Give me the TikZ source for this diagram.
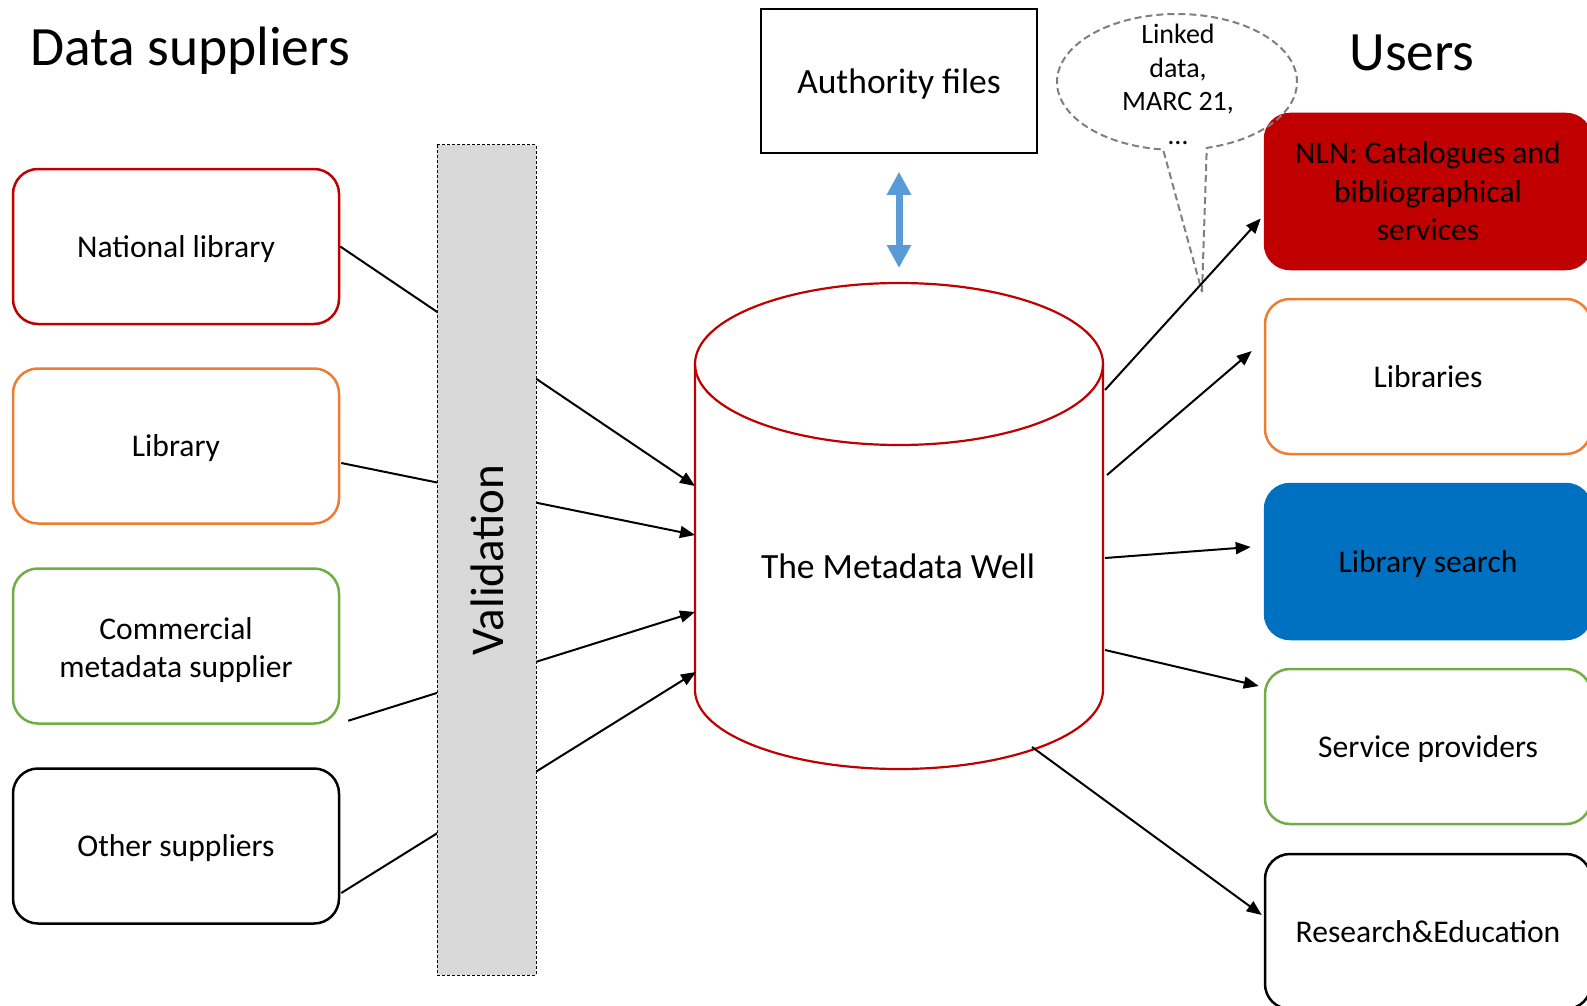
\documentclass[tikz,border=0pt]{standalone}
\usepackage{fontspec}
\setmainfont{Carlito}
\usetikzlibrary{arrows.meta,calc,shapes.callouts}
\definecolor{cred}{HTML}{C00000}
\definecolor{corange}{HTML}{ED7D31}
\definecolor{cgreen}{HTML}{70AD47}
\definecolor{cblue}{HTML}{0070C0}
\definecolor{clightblue}{HTML}{5B9BD5}
\definecolor{cgrayfill}{HTML}{D9D9D9}
\definecolor{cbubble}{HTML}{7F7F7F}
\begin{document}
\begin{tikzpicture}[x=1pt,y=-1pt,
  boxtext/.style={font=\fontsize{31.6}{38.5}\selectfont},
  lbox/.style={rectangle, rounded corners=25pt, line width=2.5pt, minimum width=326pt,
    minimum height=155pt, inner sep=0pt, align=center, boxtext},
  rbox/.style={lbox, minimum height=155pt},
  oneline/.style={text height=21pt, text depth=0pt},
  conn/.style={line width=2pt, -{Triangle[length=15pt,width=12pt]}},
  wellline/.style={draw=cred, line width=2.2pt},
  title/.style={inner sep=0pt, font=\fontsize{55.5}{62}\selectfont}
]
\useasboundingbox (0,0) rectangle (1587,1006);

% titles
\node[title, anchor=base west] (ds) at (30,66) {Data suppliers};
\node[title, anchor=base] (users) at (1412,71) {Users};

% left boxes
\node[lbox, draw=cred, oneline] (nat) at (176,246.5) {National library};
\node[lbox, draw=corange, oneline] (lib) at (176,446) {Library};
\node[lbox, draw=cgreen] (com) at (176,646) {\rule{0pt}{30pt}Commercial\\metadata supplier};
\node[lbox, draw=black, oneline] (oth) at (176,846) {Other suppliers};

% right boxes
\node[rbox, draw=cred, fill=cred] (nln) at (1428,191.5) {NLN: Catalogues and\\bibliographical\\services};
\node[rbox, draw=corange, oneline] (libs) at (1428,376.5) {Libraries};
\node[rbox, draw=cblue, fill=cblue, oneline] (srch) at (1428,561.5) {Library search};
\node[rbox, draw=cgreen, oneline] (serv) at (1428,746.5) {Service providers};
\node[rbox, draw=black, oneline] (res) at (1428,931.5) {Research\&Education};

% authority files
\node[draw=black, line width=1.5pt, minimum width=276pt, minimum height=144pt, inner sep=0pt,
  font=\fontsize{35.5}{42}\selectfont, text height=25pt, text depth=0pt] (auth) at (899,81) {Authority files};

% cylinder (The Metadata Well)
\draw[wellline] (1103,364) -- (1103,690) arc[start angle=0, end angle=-180, x radius=204pt, y radius=79pt] -- (695,364);
\draw[wellline] (899,364) ellipse [x radius=204pt, y radius=81pt];
\node[anchor=base, inner sep=0pt, font=\fontsize{35.5}{42}\selectfont] (well) at (898,578) {The Metadata Well};
\coordinate (welltop) at (899,283);
\coordinate (wl1) at (695,486);
\coordinate (wl2) at (695,535);
\coordinate (wl3) at (695,612);
\coordinate (wl4) at (696,672);
\coordinate (wr1) at (1105,390);
\coordinate (wr2) at (1107,475);
\coordinate (wr3) at (1105,558);
\coordinate (wr4) at (1105,650);
\coordinate (wr5) at (1032,747);

% blue double arrow
\draw[draw=clightblue, line width=7pt, {Triangle[length=23pt,width=23pt]}-{Triangle[length=23pt,width=23pt]}]
  ($(auth.south)+(0,18)$) -- ($(welltop)+(0,-15)$);

% speech bubble
\coordinate (tip) at (1202,292);
\node[ellipse callout, draw=cbubble, line width=2pt, dash pattern=on 7pt off 4pt,
  minimum width=240pt, minimum height=136pt, inner sep=0pt,
  callout absolute pointer={(tip)}, callout pointer arc=21] (bubble) at (1177,82) {};
\node[inner sep=0pt, align=center, font=\fontsize{28}{33.5}\selectfont] (bubtxt) at (1178,84.5)
  {Linked\\data,\\MARC 21,\\…};

% connectors from suppliers into the well
\draw[conn] (nat.east) -- (wl1);
\draw[conn] ($(lib.east)+(1,17)$) -- (wl2);
\draw[conn] ($(com.south east)+(8,-4)$) -- (wl3);
\draw[conn] ($(oth.east)+(1,47)$) -- (wl4);

% validation bar (on top of the connectors)
\node[rotate=90, minimum width=830pt, minimum height=99pt, inner sep=0pt, fill=cgrayfill,
  draw=black, line width=1pt, dash pattern=on 3pt off 2pt,
  font=\fontsize{47}{52}\selectfont, text height=33pt, text depth=0pt] (val) at (486.5,560) {Validation};

% connectors from the well to users
\draw[conn] (wr1) -- ($(nln.west)+(-3,27)$);
\draw[conn] (wr2) -- ($(libs.west)+(-12,-25.5)$);
\draw[conn] (wr3) -- ($(srch.west)+(-13,-14.5)$);
\draw[conn] (wr4) -- ($(serv.west)+(-5,-60.5)$);
\draw[conn] (wr5) -- ($(res.west)+(-2,-16.5)$);
\end{tikzpicture}
\end{document}
